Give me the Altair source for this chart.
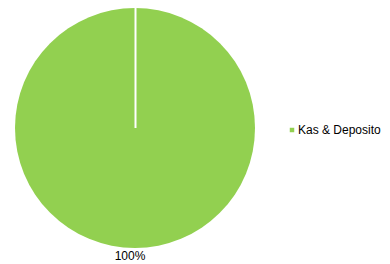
import altair as alt
import pandas as pd

categories = ["Kas & Deposito"]
values = [100]
labels = ["100%"]
colors = ["#92D050"]

df = pd.DataFrame({"category": categories, "value": values, "label": labels})

W, H = 374, 256          # whole drawing area (page 390 wide with 8px margins)
CX, CY, R = 127, 120, 120  # pie centre and radius inside the drawing area

base = alt.Chart(df).encode(theta=alt.Theta("value:Q", stack=True))

pie = base.mark_arc(outerRadius=R).encode(
    x=alt.value(CX),
    y=alt.value(CY),
    color=alt.Color(
        "category:N",
        scale=alt.Scale(domain=categories, range=colors),
        legend=alt.Legend(
            title=None, orient="none", legendX=275, legendY=116, padding=0,
            symbolType="square", labelOffset=0, symbolOffset=3,
            labelFont="Liberation Sans", labelFontSize=12,
            labelColor="#000", labelLimit=200,
        ),
    ),
)

text = base.mark_text(
    radius=128, dx=-5, font="Liberation Sans", fontSize=12, color="black"
).encode(x=alt.value(CX), y=alt.value(CY), text="label:N")

rule = alt.Chart(df).mark_rule(color="white", strokeWidth=2).encode(
    x=alt.value(CX + 0.5), y=alt.value(CY - R), y2=alt.value(CY)
)

chart = (
    alt.layer(pie, rule, text)
    .properties(width=W, height=H, padding=0, autosize=alt.AutoSizeParams(type="none"))
    .configure_view(strokeWidth=0)
    .configure_legend(symbolSize=20, symbolStrokeWidth=0)
)

chart.save("out.html", embed_options={"renderer": "svg", "actions": False})
